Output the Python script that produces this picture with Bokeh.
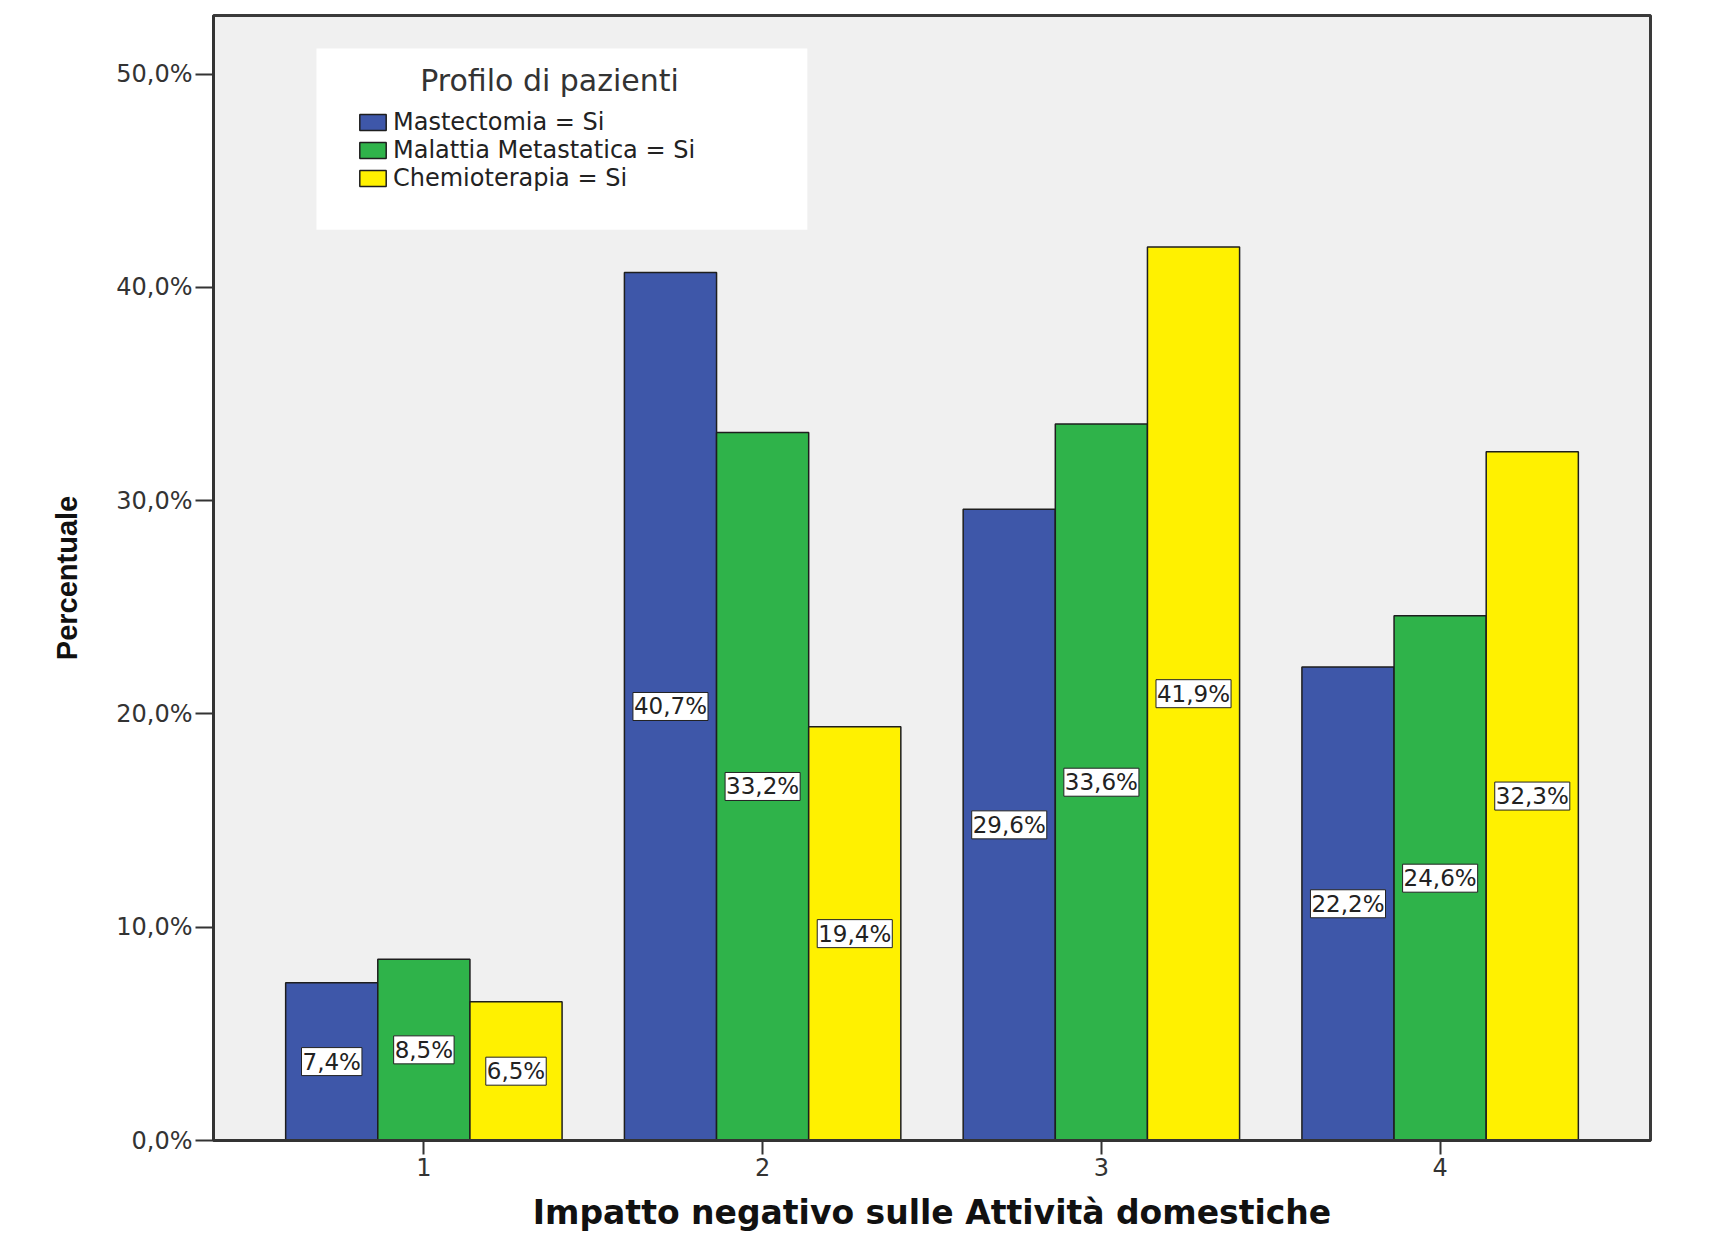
from bokeh.plotting import figure
from bokeh.models import (Range1d, FixedTicker, Legend, LegendItem, Label,
                          BoxAnnotation, ColumnDataSource)
from bokeh.core.properties import value
from bokeh.embed import file_html
from bokeh.resources import INLINE

# ---- data ----
categories = [1, 2, 3, 4]
series_names = ["Mastectomia = Si", "Malattia Metastatica = Si", "Chemioterapia = Si"]
mastectomia = [7.4, 40.7, 29.6, 22.2]
metastatica = [8.5, 33.2, 33.6, 24.6]
chemioterapia = [6.5, 19.4, 41.9, 32.3]
y_ticks = [0, 10, 20, 30, 40, 50]
y_tick_labels = ["0,0%", "10,0%", "20,0%", "30,0%", "40,0%", "50,0%"]
legend_title = "Profilo di pazienti"
x_title = "Impatto negativo sulle Attività domestiche"
y_title = "Percentuale"

colors = ["#3E57A9", "#2FB34A", "#FFF100"]
offsets = [-0.272, 0.0, 0.272]
bar_w = 0.272

p = figure(width=1702, height=1234,
           x_range=Range1d(0.379, 4.621), y_range=Range1d(0, 52.75),
           output_backend="svg", toolbar_location=None,
           min_border_left=213, min_border_right=52,
           min_border_top=15, min_border_bottom=93,
           background_fill_color="#F0F0F0", border_fill_color="white")

p.xgrid.visible = False
p.ygrid.visible = False
p.outline_line_color = "#3a3a3a"
p.outline_line_width = 3

# legend white backdrop
p.add_layout(BoxAnnotation(left=0.683, right=2.132, bottom=42.7, top=51.2,
                           fill_color="white", fill_alpha=1.0, line_color=None,
                           level="underlay"))

renderers = []
for name, vals, col, off in zip(series_names, [mastectomia, metastatica, chemioterapia], colors, offsets):
    src = ColumnDataSource(dict(
        x=[c + off for c in categories],
        top=vals,
        ymid=[v / 2 for v in vals],
        label=[("%.1f" % v).replace(".", ",") + "%" for v in vals],
    ))
    r = p.vbar(x="x", top="top", width=bar_w, bottom=0, source=src,
               fill_color=col, line_color="#1e1e1e", line_width=1.5)
    renderers.append((name, r))
    p.text(x="x", y="ymid", text="label", source=src,
           text_align="center", text_baseline="middle",
           text_font=value("DejaVu Sans"), text_font_size="23px", text_color="#222222",
           background_fill_color="white", border_line_color="#222222",
           border_line_width=1, padding=1)

legend = Legend(items=[LegendItem(label=n, renderers=[r]) for n, r in renderers],
                location=(143, 948), padding=0, margin=0, spacing=0,
                glyph_width=33, glyph_height=20, label_standoff=4,
                label_text_font="DejaVu Sans", label_text_font_size="24px",
                label_text_color="#222222",
                background_fill_alpha=0, border_line_alpha=0)
p.add_layout(legend)

p.add_layout(Label(x=1.371, y=49.7, text=legend_title, text_align="center",
                   text_baseline="middle", text_font="DejaVu Sans",
                   text_font_size="30px", text_color="#333333"))

# axes
xa = p.xaxis[0]
xa.ticker = FixedTicker(ticks=categories)
xa.major_tick_out = 14
xa.major_tick_in = 0
xa.major_tick_line_width = 2
xa.major_tick_line_color = "#333333"
xa.minor_tick_line_color = None
xa.axis_line_color = "#333333"
xa.axis_line_width = 3
xa.major_label_text_font = "DejaVu Sans"
xa.major_label_text_font_size = "24px"
xa.major_label_text_color = "#333333"
xa.major_label_standoff = 3
xa.axis_label = x_title
xa.axis_label_text_font = "DejaVu Sans"
xa.axis_label_text_font_style = "bold"
xa.axis_label_text_font_size = "33px"
xa.axis_label_text_color = "#111111"
xa.axis_label_standoff = 14

ya = p.yaxis[0]
ya.ticker = FixedTicker(ticks=y_ticks)
ya.major_label_overrides = {t: l for t, l in zip(y_ticks, y_tick_labels)}
ya.major_tick_out = 18
ya.major_tick_in = 0
ya.major_tick_line_width = 2
ya.major_tick_line_color = "#333333"
ya.minor_tick_line_color = None
ya.axis_line_color = "#333333"
ya.axis_line_width = 3
ya.major_label_text_font = "DejaVu Sans"
ya.major_label_text_font_size = "24px"
ya.major_label_text_color = "#333333"
ya.major_label_standoff = 3
ya.axis_label = y_title
ya.axis_label_text_font = "Liberation Sans"
ya.axis_label_text_font_style = "bold"
ya.axis_label_text_font_size = "29px"
ya.axis_label_text_color = "#111111"
ya.axis_label_standoff = 30

open("out.html", "w").write(file_html(p, INLINE))
